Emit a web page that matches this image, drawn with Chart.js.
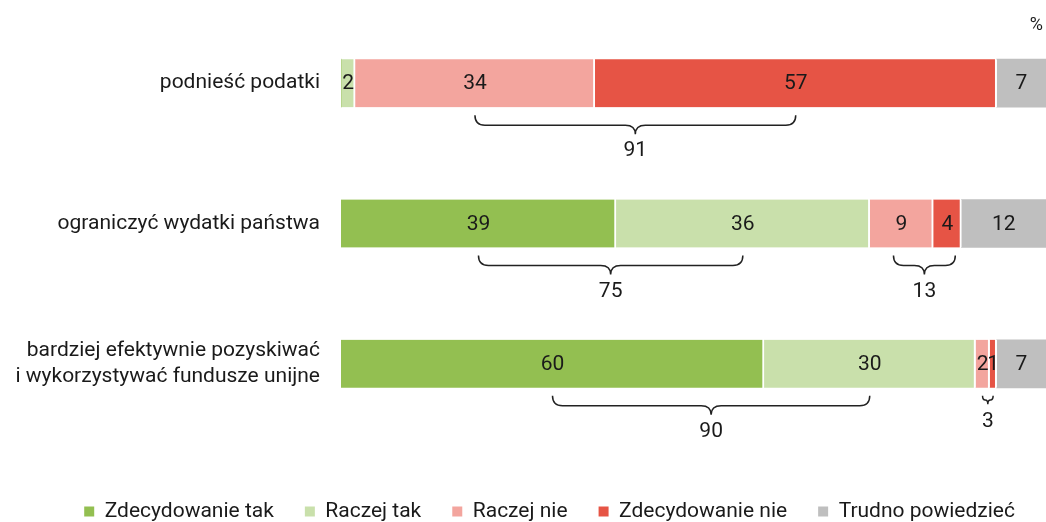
<!DOCTYPE html>
<html>
<head>
<meta charset="utf-8">
<script src="https://cdn.jsdelivr.net/npm/chart.js@4"></script>
<style>
  html, body { margin: 0; padding: 0; background: #fff; }
  #wrap { width: 1046px; height: 522px; }
</style>
</head>
<body>
<div id="wrap"><canvas id="chart"></canvas></div>
<script>
// data (%)
const categories = [
  'podnieść podatki',
  'ograniczyć wydatki państwa',
  ['bardziej efektywnie pozyskiwać', 'i wykorzystywać fundusze unijne']
];
const seriesNames = ['Zdecydowanie tak', 'Raczej tak', 'Raczej nie', 'Zdecydowanie nie', 'Trudno powiedzieć'];
const zdecydowanieTak = [0, 39, 60];
const raczejTak = [2, 36, 30];
const raczejNie = [34, 9, 2];
const zdecydowanieNie = [57, 4, 1];
const trudnoPowiedziec = [7, 12, 7];
const seriesColors = ['#93bf51', '#c9e0ab', '#f3a59e', '#e65445', '#bfbfbf'];
// braces under the bars: [category, first series, last series]
const braces = [[0, 2, 3], [1, 0, 1], [1, 2, 3], [2, 0, 1], [2, 2, 3]];
const unitLabel = '%';

const TEXT = '#1a1a1a';
const FONT = '21px Roboto';
Chart.defaults.font.family = 'Roboto';
Chart.defaults.font.size = 21;
Chart.defaults.color = TEXT;

const allSeries = [zdecydowanieTak, raczejTak, raczejNie, zdecydowanieNie, trudnoPowiedziec];
const datasets = allSeries.map((values, i) => ({
  label: seriesNames[i],
  data: values,
  backgroundColor: seriesColors[i],
  borderColor: '#ffffff',
  borderWidth: i < allSeries.length - 1 ? { top: 0, bottom: 0, left: 0, right: 2 } : 0,
  borderSkipped: false,
  barThickness: 48
}));

// numbers inside the segments
const valueLabels = {
  id: 'valueLabels',
  afterDatasetsDraw(chart) {
    const ctx = chart.ctx;
    ctx.save();
    ctx.font = FONT;
    ctx.fillStyle = TEXT;
    ctx.textAlign = 'center';
    ctx.textBaseline = 'middle';
    chart.data.datasets.forEach((ds, i) => {
      chart.getDatasetMeta(i).data.forEach((bar, j) => {
        const v = ds.data[j];
        if (!v) return;
        ctx.fillText(String(v), (bar.x + bar.base) / 2, bar.y + 1);
      });
    });
    ctx.restore();
  }
};

function drawBrace(ctx, x1, x2, y) {
  const w = x2 - x1;
  const r = Math.min(10, w / 4);
  const h1 = Math.min(10, w / 2.5);
  const h2 = Math.min(9, w / 2.5);
  const xm = (x1 + x2) / 2;
  ctx.beginPath();
  ctx.moveTo(x1, y);
  ctx.quadraticCurveTo(x1, y + h1, x1 + r, y + h1);
  ctx.lineTo(xm - r, y + h1);
  ctx.quadraticCurveTo(xm, y + h1, xm, y + h1 + h2);
  ctx.quadraticCurveTo(xm, y + h1, xm + r, y + h1);
  ctx.lineTo(x2 - r, y + h1);
  ctx.quadraticCurveTo(x2, y + h1, x2, y);
  ctx.stroke();
  return y + h1 + h2;
}

// curly braces with the summed values
const braceSums = {
  id: 'braceSums',
  afterDatasetsDraw(chart) {
    const ctx = chart.ctx;
    ctx.save();
    ctx.strokeStyle = '#222';
    ctx.lineWidth = 1.5;
    ctx.font = FONT;
    ctx.fillStyle = TEXT;
    ctx.textAlign = 'center';
    ctx.textBaseline = 'middle';
    braces.forEach(([cat, from, to]) => {
      const a = chart.getDatasetMeta(from).data[cat];
      const b = chart.getDatasetMeta(to).data[cat];
      let x1 = (a.x + a.base) / 2;
      let x2 = (b.x + b.base) / 2;
      // short braces reach a little past the segment centres
      if (x2 - x1 > 20 && x2 - x1 < 80) { x1 -= 8; x2 += 8; }
      const top = a.y + a.height / 2 + 8;
      const tip = drawBrace(ctx, x1, x2, top);
      let sum = 0;
      for (let s = from; s <= to; s++) sum += allSeries[s][cat];
      ctx.fillText(String(sum), (x1 + x2) / 2, tip + 17);
    });
    ctx.restore();
  }
};

// "%" in the top right corner
const unitMark = {
  id: 'unitMark',
  afterDraw(chart) {
    const ctx = chart.ctx;
    ctx.save();
    ctx.font = '18px Roboto';
    ctx.fillStyle = TEXT;
    ctx.textAlign = 'right';
    ctx.textBaseline = 'middle';
    ctx.fillText(unitLabel, chart.chartArea.right - 3, 25);
    ctx.restore();
  }
};

// pull the legend row a bit lower
const legendShift = {
  id: 'legendShift',
  beforeInit(chart) {
    const fit = chart.legend.fit;
    chart.legend.fit = function () {
      fit.call(this);
      this.height -= 10;
    };
  }
};

new Chart(document.getElementById('chart'), {
  type: 'bar',
  data: { labels: categories, datasets: datasets },
  plugins: [valueLabels, braceSums, unitMark, legendShift],
  options: {
    indexAxis: 'y',
    responsive: true,
    maintainAspectRatio: false,
    animation: false,
    layout: { padding: { top: 13, right: 0, bottom: 0, left: 0 } },
    scales: {
      x: {
        stacked: true,
        min: 0,
        max: 100,
        grid: { display: false },
        border: { display: false },
        ticks: { display: false },
        afterFit(scale) { scale.height = 36; }
      },
      y: {
        stacked: true,
        grid: { display: false, drawTicks: false },
        border: { display: false },
        ticks: { padding: 21, color: TEXT, font: { size: 21, lineHeight: 1.2 } },
        afterFit(scale) {
          scale.width = 341;
          scale.paddingTop = 0;
          scale.paddingBottom = 0;
        }
      }
    },
    plugins: {
      legend: {
        position: 'bottom',
        align: 'end',
        labels: {
          boxWidth: 10,
          boxHeight: 10,
          padding: 31,
          color: TEXT,
          font: { size: 21 },
          generateLabels(chart) {
            return Chart.defaults.plugins.legend.labels.generateLabels(chart)
              .map(item => Object.assign(item, { lineWidth: 0 }));
          }
        }
      },
      tooltip: { enabled: false }
    }
  }
});
</script>
</body>
</html>
